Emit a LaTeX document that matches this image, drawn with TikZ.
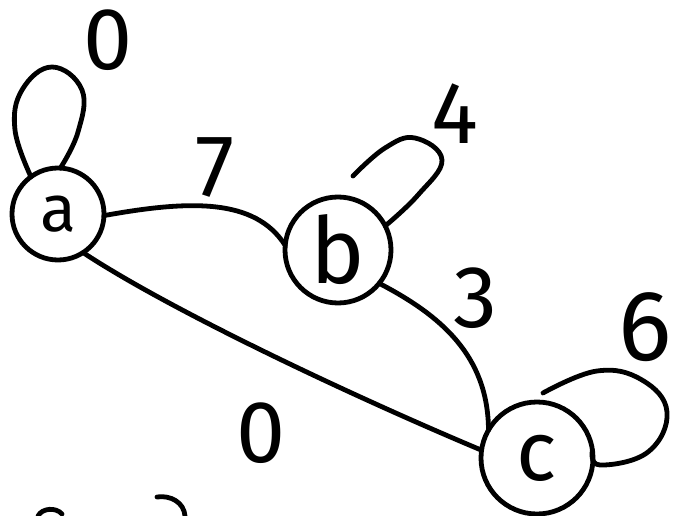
\documentclass[tikz,border=0pt]{standalone}
\usepackage{fontspec}
\setmainfont{Fira Sans}
\tikzset{
  pen/.style={line width=4.8pt, line cap=round, line join=round, black},
  vert/.style={circle, draw, pen, inner sep=0pt, outer sep=0pt},
  lbl/.style={inner sep=0pt, font=\fontsize{88}{88}\selectfont}
}
\begin{document}
\begin{tikzpicture}[x=1pt, y=-1pt]
  \useasboundingbox (0,0) rectangle (677,516);

  % vertices
  \node[vert, minimum size=92pt, font=\fontsize{66}{66}\selectfont] (a) at (58,214) {a};
  \node[vert, minimum size=106pt, font=\fontsize{92}{92}\selectfont] (b) at (338,250) {b};
  \node[vert, minimum size=112pt, font=\fontsize{84}{84}\selectfont] (c) at (537,458) {c};

  % edges
  \draw[pen] (a.358) .. controls (190,200) and (255,198) .. (b.175);
  \draw[pen] (a.303) .. controls (170,310) and (350,395) .. (c.172);
  \draw[pen] (b.321) .. controls (440,315) and (488,355) .. (c.150);

  % self loops
  \draw[pen] plot[smooth, tension=0.7] coordinates
    {(a.126) (15,130) (22,90) (52,67) (82,90) (78,132) (a.87)};
  \coordinate (bfree) at (353,176);
  \draw[pen] plot[smooth, tension=0.7] coordinates
    {(b.27) (418,195) (442,160) (415,138) (385,148) (bfree)};
  \coordinate (cfree) at (543,393);
  \draw[pen] plot[smooth, tension=0.7] coordinates
    {(c.8) (600,465) (648,452) (667,412) (642,380) (597,371) (cfree)};

  % edge and loop weights
  \node[lbl] (w0top) at (108,40) {0};
  \node[lbl] (w7) at (215,168) {7};
  \node[lbl] (w4) at (455,114) {4};
  \node[lbl] (w3) at (475,298) {3};
  \node[lbl, font=\fontsize{100}{100}\selectfont] (w6) at (645,327) {6};
  \node[lbl] (w0mid) at (261,433) {0};

  % strokes running off the lower edge
  \draw[pen] (38,516) .. controls (42,508) and (56,507) .. (62,514);
  \draw[pen] (157,497) .. controls (170,495) and (184,502) .. (185,516);
\end{tikzpicture}
\end{document}
